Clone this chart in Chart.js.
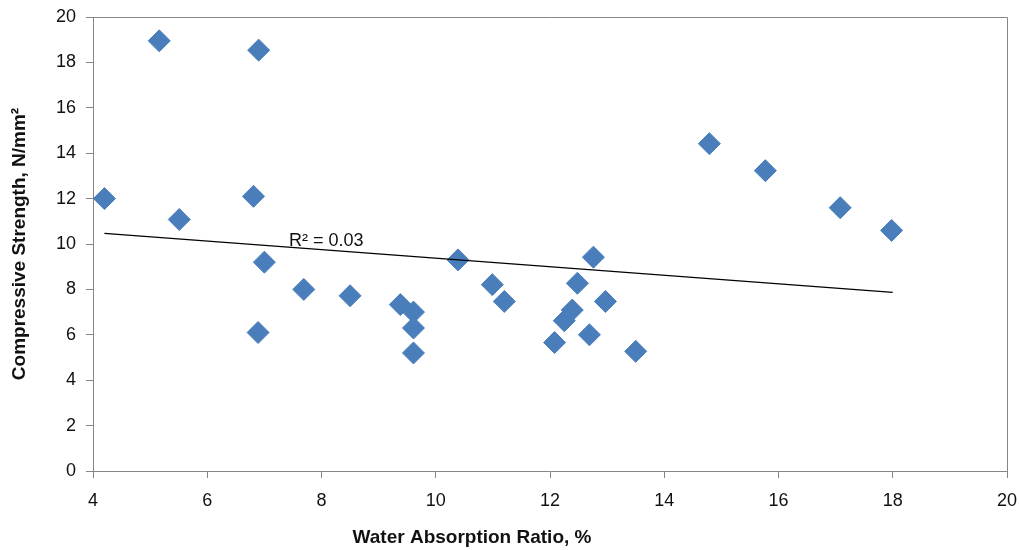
<!DOCTYPE html>
<html>
<head>
<meta charset="utf-8">
<script src="https://cdn.jsdelivr.net/npm/chart.js@4/dist/chart.umd.min.js"></script>
<style>
  html, body { margin: 0; padding: 0; background: #ffffff; }
  #wrap { width: 1019px; height: 550px; position: relative; }
</style>
</head>
<body>
<div id="wrap"><canvas id="c"></canvas></div>
<script>
// ---- data ----
const waterAbsorption = [4.2, 5.16, 5.51, 6.9, 6.81, 7.0, 6.89, 7.69, 8.5, 9.38, 9.61, 9.61, 9.61,
  10.39, 10.99, 11.2, 12.08, 12.25, 12.39, 12.48, 12.76, 12.69, 12.97, 13.5, 14.79, 15.77, 17.08, 17.98];
const compressiveStrength = [12.0, 18.95, 11.08, 18.54, 12.1, 9.2, 6.1, 8.0, 7.72, 7.33, 7.0, 6.3, 5.2,
  9.3, 8.21, 7.47, 5.66, 6.62, 7.09, 8.27, 9.42, 6.0, 7.47, 5.27, 14.42, 13.23, 11.6, 10.6];
// trendline end points (as drawn in the reference)
const trendX = [4.2, 18.0];
const trendY = [10.47, 7.87];
const rSquaredLabel = 'R\u00B2 = 0.03';
const rSquaredAt = { x: 7.43, y: 10.15 };
const xTicks = [4, 6, 8, 10, 12, 14, 16, 18, 20];
const yTicks = [0, 2, 4, 6, 8, 10, 12, 14, 16, 18, 20];
const xTitle = 'Water Absorption Ratio, %';
const yTitle = 'Compressive Strength, N/mm\u00B2';

const scatterPoints = waterAbsorption.map((x, i) => ({ x: x, y: compressiveStrength[i] }));
const trendPoints = trendX.map((x, i) => ({ x: x, y: trendY[i] }));

const AXIS = '#868686';
const FONT = "'Liberation Sans', Arial, sans-serif";

const extras = {
  id: 'extras',
  afterDraw(chart) {
    const ctx = chart.ctx;
    const a = chart.chartArea;
    ctx.save();
    ctx.strokeStyle = AXIS;
    ctx.lineWidth = 1;
    ctx.beginPath();
    ctx.moveTo(a.left, a.top + 0.5);
    ctx.lineTo(a.right + 0.5, a.top + 0.5);
    ctx.lineTo(a.right + 0.5, a.bottom);
    ctx.stroke();
    // R² label
    const xs = chart.scales.x, ys = chart.scales.y;
    ctx.fillStyle = '#111';
    ctx.font = '18px ' + FONT;
    ctx.textAlign = 'left';
    ctx.textBaseline = 'middle';
    ctx.fillText(rSquaredLabel, xs.getPixelForValue(rSquaredAt.x), ys.getPixelForValue(rSquaredAt.y));
    // x axis title
    ctx.font = 'bold 19px ' + FONT;
    ctx.textAlign = 'center';
    ctx.fillText(xTitle, 472, 538);
    ctx.restore();
  }
};

new Chart(document.getElementById('c'), {
  type: 'scatter',
  data: {
    datasets: [
      {
        type: 'line',
        label: 'Trend',
        data: trendPoints,
        borderColor: '#000000',
        borderWidth: 1.3,
        pointRadius: 0,
        fill: false,
        order: 0
      },
      {
        label: 'Data',
        data: scatterPoints,
        pointStyle: 'rectRot',
        pointRadius: 11,
        pointBackgroundColor: '#4A7EBB',
        pointBorderColor: '#4A7EBB',
        pointBorderWidth: 1,
        order: 1
      }
    ]
  },
  plugins: [extras],
  options: {
    responsive: true,
    maintainAspectRatio: false,
    animation: false,
    devicePixelRatio: 1,
    layout: { padding: { left: 0, right: 12, top: 17, bottom: 0 } },
    plugins: {
      legend: { display: false },
      tooltip: { enabled: false }
    },
    scales: {
      x: {
        type: 'linear',
        min: 4, max: 20,
        afterBuildTicks: (s) => { s.ticks = xTicks.map(v => ({ value: v })); },
        afterFit: (s) => { s.height = 79; s.paddingLeft = 0; s.paddingRight = 0; s.paddingTop = 0; s.paddingBottom = 0; },
        grid: { display: true, drawOnChartArea: false, drawTicks: true, tickLength: 7, color: AXIS },
        border: { display: true, color: AXIS },
        ticks: { color: '#111', font: { family: FONT, size: 18 }, padding: 12, maxRotation: 0 }
      },
      y: {
        type: 'linear',
        min: 0, max: 20,
        afterBuildTicks: (s) => { s.ticks = yTicks.map(v => ({ value: v })); },
        afterFit: (s) => { s.width = 93; s.paddingLeft = 0; s.paddingRight = 0; s.paddingTop = 0; s.paddingBottom = 0; },
        grid: { display: true, drawOnChartArea: false, drawTicks: true, tickLength: 7, color: AXIS },
        border: { display: true, color: AXIS },
        ticks: { color: '#111', font: { family: FONT, size: 18 }, padding: 10 },
        title: {
          display: true,
          text: yTitle,
          color: '#111',
          font: { family: FONT, size: 19, weight: 'bold' },
          padding: { top: 8, bottom: 0 }
        }
      }
    }
  }
});
</script>
</body>
</html>
